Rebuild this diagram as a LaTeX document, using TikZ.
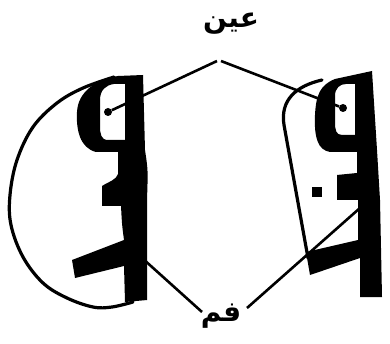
\documentclass[tikz,border=0pt]{standalone}
\usepackage{fontspec}
\newfontfamily\arabicfont[Script=Arabic]{DejaVu Sans}
\TeXXeTstate=1

\begin{document}
\begin{tikzpicture}[x=1pt, y=-1pt]
    \tikzset{
        glyphstyle/.style={fill=black, even odd rule},
        headline/.style={line width=3.2pt, black, line cap=round},
        pointer/.style={line width=2.6pt, black},
        eyedot/.style={circle, fill=black, inner sep=0pt, minimum size=8pt},
        labeltext/.style={font=\arabicfont\bfseries\fontsize{28}{30}\selectfont, inner sep=0pt}
    }
    \useasboundingbox (0,0) rectangle (390,344);

    % --- 1. LEFT FACE ---
    \fill[glyphstyle] (143,75) -- (145,150) .. controls (148,170) .. (147,200) -- (147,300)
        -- (125,302) -- (124,266) -- (75,278) -- (72,260) -- (124,240)
        .. controls (122,225) .. (121,206) -- (102,206) -- (102,186)
        .. controls (110,181) and (116,180) .. (118,174) -- (118,152) -- (96,152)
        .. controls (80,148) and (76,130) .. (77,112)
        .. controls (78,92) and (95,80) .. (118,76) -- cycle
        (125,84) -- (125,140) -- (108,140) .. controls (101,140) and (100,134) .. (100,126)
        -- (100,100) .. controls (100,90) and (106,85) .. (114,84) -- cycle;
    \draw[headline] plot[smooth, tension=0.6] coordinates {(114,77) (83,88) (57,103) (33,127)
        (17,160) (10,195) (11,225) (23,257) (43,283) (67,298) (93,307) (112,307) (133,302)};

    % --- 2. RIGHT FACE ---
    \fill[glyphstyle] (372,71) -- (377,150) -- (380,200) -- (382,297) -- (360,297) -- (360,258)
        -- (310,275) -- (306,252) -- (358,240) -- (358,200) -- (337,200) -- (337,175)
        -- (357,173) -- (357,152) -- (330,152)
        .. controls (318,150) and (314,138) .. (315,115)
        .. controls (316,95) and (320,85) .. (335,79) -- cycle
        (355,84) -- (355,135) -- (342,135) .. controls (336,135) and (335,130) .. (335,122)
        -- (335,96) .. controls (335,88) and (340,84) .. (346,84) -- cycle;
    \fill (312,187) rectangle (322,197);
    \draw[headline] (322,80) .. controls (296,86) and (280,100) .. (284,125) -- (308,258);

    % --- 3. LABELS ---
    \node[labeltext] (eye) at (231,24) {\beginR عين\endR};
    \node[labeltext] (mouth) at (221,316) {\beginR فم\endR};

    \node[eyedot] (eyeL) at (108,112) {};
    \node[eyedot] (eyeR) at (343,108) {};
    \coordinate (apexL) at (217,61);
    \coordinate (apexR) at (221,61);
    \coordinate (mouthL) at (142,258);
    \coordinate (mouthR) at (360,208);
    \coordinate (mouthLend) at (202,312);
    \coordinate (mouthRend) at (247,308);

    \draw[pointer] (eyeL) -- (apexL);
    \draw[pointer] (eyeR) -- (apexR);
    \draw[pointer] (mouthL) -- (mouthLend);
    \draw[pointer] (mouthR) -- (mouthRend);

\end{tikzpicture}
\end{document}
